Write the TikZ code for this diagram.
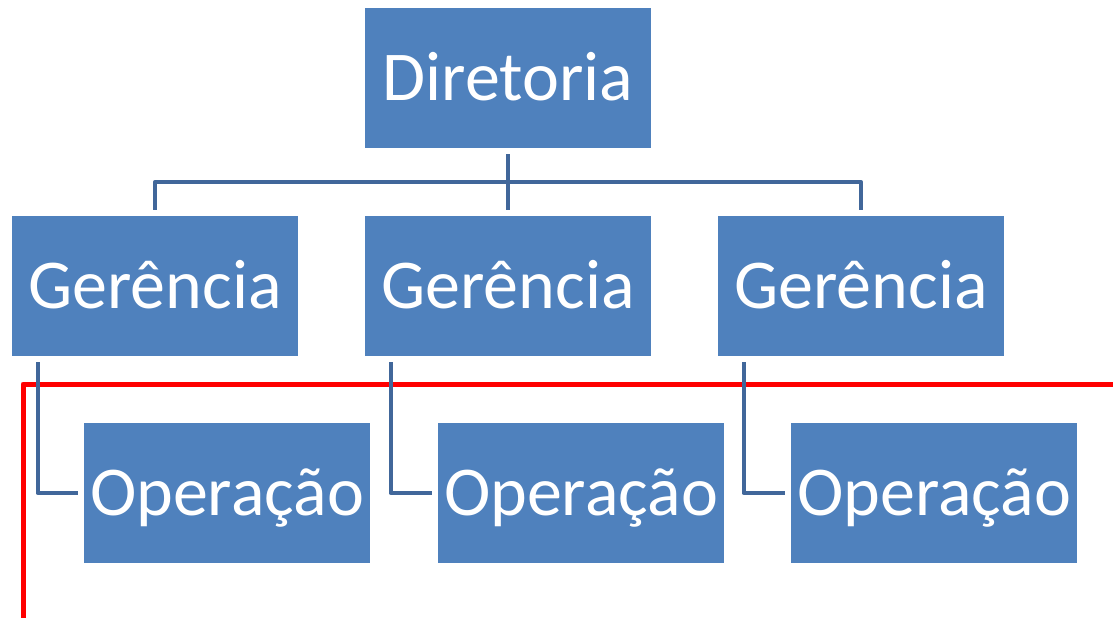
\documentclass[tikz,border=0pt]{standalone}
\usepackage{fontspec}
\setmainfont{Carlito}
\definecolor{boxblue}{HTML}{4F81BD}
\definecolor{linkblue}{HTML}{41679A}
\definecolor{markred}{HTML}{FF0000}
\tikzset{
  unit/.style={fill=boxblue, text=white, inner sep=0pt,
    minimum width=286pt, minimum height=140pt,
    text height=45pt, text depth=0pt,
    font=\fontsize{70}{84}\selectfont},
  link/.style={draw=linkblue, line width=4.5pt, line join=round,
    shorten <=6pt, shorten >=6pt}
}
\begin{document}
\begin{tikzpicture}[x=1pt,y=-1pt]

  % Fix the page to the size of the reference
  \useasboundingbox (0,0) rectangle (1113,618);

  % Top level
  \node[unit] (D) at (508,78) {Diretoria};

  % Second level
  \node[unit] (G1) at (155,286) {Gerência};
  \node[unit] (G2) at (508,286) {Gerência};
  \node[unit] (G3) at (861,286) {Gerência};

  % Third level
  \node[unit] (O1) at (227,493) {Operação};
  \node[unit] (O2) at (581,493) {Operação};
  \node[unit] (O3) at (934,493) {Operação};

  % Red marking line
  \coordinate (R1) at (1113,384);
  \coordinate (R2) at (23,384);
  \coordinate (R3) at (23,618);
  \draw[markred, line width=5pt, line join=round] (R1) -- (R2) -- (R3);

  % Connectors from the top level
  \draw[link] (D.south) -- ++(0,34) -| (G1.north);
  \draw[link] (D.south) -- ++(0,34) -| (G3.north);
  \draw[link] (D.south) -- (G2.north);

  % Connectors to the third level
  \draw[link] ([xshift=26pt]G1.south west) |- (O1.west);
  \draw[link] ([xshift=26pt]G2.south west) |- (O2.west);
  \draw[link] ([xshift=26pt]G3.south west) |- (O3.west);

\end{tikzpicture}
\end{document}
